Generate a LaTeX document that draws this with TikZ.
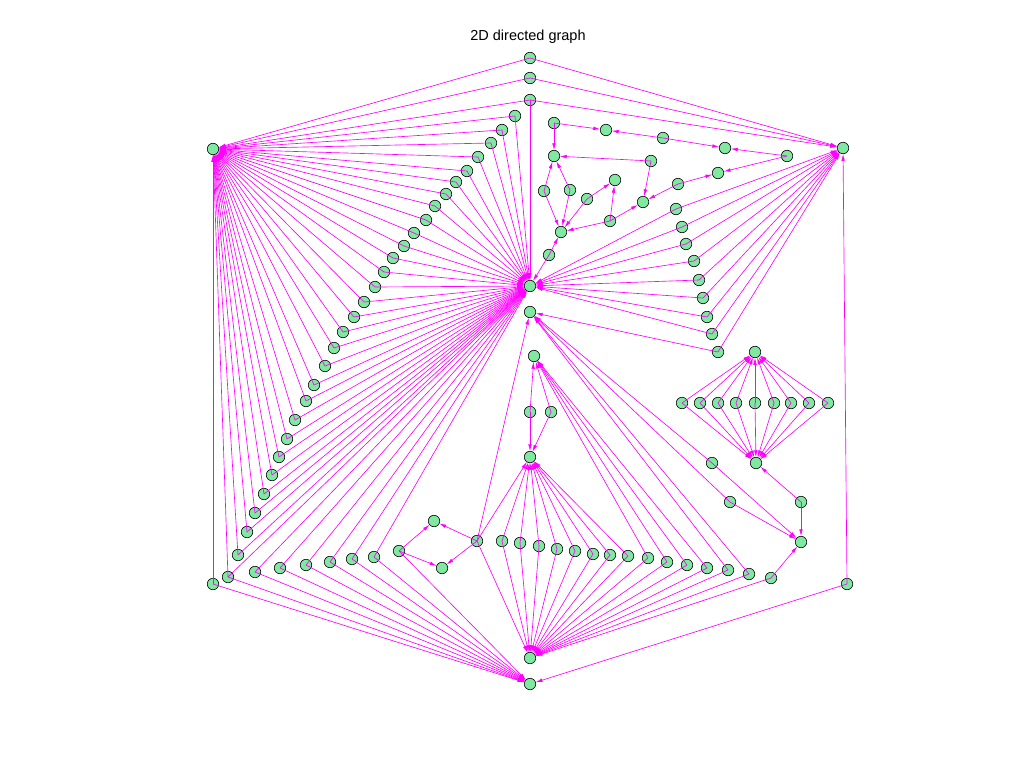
\documentclass[tikz,border=0pt]{standalone}
\usepackage{fontspec}
\setmainfont{Liberation Sans}
\usetikzlibrary{arrows.meta}
\definecolor{vfill}{RGB}{128,232,160}
\definecolor{emag}{RGB}{255,0,255}
\begin{document}
\begin{tikzpicture}[x=1pt,y=-1pt,
  vx/.style={circle,draw=black,fill=vfill,line width=0.6pt,minimum size=11.5pt,inner sep=0pt,outer sep=0pt},
  edge/.style={draw=emag,line width=0.65pt,-{Latex[length=7pt,width=3.6pt]}}]
\useasboundingbox (0,0) rectangle (1024,768);
\node (title) at (528,37) {\fontsize{14.5}{16}\selectfont 2D directed graph};
% named vertices
\foreach \n/\x/\y in {L/213/149, R/843/148, C/530/286, C2/530/312, D1/534/356, D2/530/457,
  B1/530/658, B2/530/684, RT/755/352, RB/756/463, X/801/542, t1/530/58, t2/530/78, t3/530/100,
  cl/213/584, cr/847/584, s0/399/551, s1/434/521, s2/442/568, s3/477/541, u1/530/412, u2/551/412,
  e1/712/463, e2/730/502, e3/801/502, ca/554/123, cb/606/130, cc/663/138, cd/725/148, cf/787/156,
  ce/554/156, cg/651/161, ch/544/191, ci/570/190, cj/615/180, ck/587/199, ckk/643/202, cm/678/184,
  cn/718/173, co/561/232, cp/610/221, cq/549/255}
  \node[vx] (\n) at (\x,\y) {};
\foreach \n/\x/\y in {1/515/116, 2/502/130, 3/491/143, 4/478/157, 5/467/171, 6/456/182, 7/446/194,
  8/435/206, 9/426/220, 10/414/233, 11/404/246, 12/393/258, 13/384/272, 14/375/287, 15/364/302,
  16/354/317, 17/343/332, 18/334/348, 19/325/366, 20/314/385, 21/306/401, 22/295/420, 23/287/439,
  24/279/457, 25/272/475, 26/264/494, 27/255/513, 28/247/532, 29/238/555, 30/228/577}
  \node[vx] (ld\n) at (\x,\y) {};
\foreach \n/\x/\y in {1/255/572, 2/280/568, 3/306/565, 4/330/562, 5/352/559, 6/374/557}
  \node[vx] (bl\n) at (\x,\y) {};
\foreach \n/\x/\y in {1/502/541, 2/520/543, 3/539/546, 4/557/549, 5/575/551, 6/593/554, 7/610/555,
  8/628/556, 9/648/558, 10/667/562, 11/687/565, 12/707/568, 13/728/570, 14/749/574, 15/771/578}
  \node[vx] (m\n) at (\x,\y) {};
\foreach \n/\x in {1/682, 2/700, 3/718, 4/736, 5/755, 6/774, 7/791, 8/809, 9/828}
  \node[vx] (rd\n) at (\x,403) {};
\foreach \n/\x/\y in {1/676/209, 2/682/227, 3/686/244, 4/694/261, 5/699/280, 6/703/298, 7/707/317,
  8/712/334, 9/718/352}
  \node[vx] (rr\n) at (\x,\y) {};
% connectors
\foreach \s/\t in {t1/L, t1/R, t2/L, t2/R, t3/L, t3/R, t3/C, cl/L, cl/B2, cr/R, cr/B2, ld30/B2,
  s0/s1, s0/s2, s0/B2, s3/s1, s3/s2, s3/B1, s3/C2, s3/D2,
  m13/C2, m14/C2, m15/X, u1/D1, u1/D2, u2/D1, u2/D2,
  e1/C2, e1/X, e2/C2, e2/X, e3/RB, e3/X, rr9/R, rr9/C2,
  ca/ce, ca/cb, cc/cb, cc/cd, cf/cd, cf/cn, cg/ce, cg/ckk, ch/ce, ch/co, ci/ce, ci/co,
  ck/co, ck/cj, cp/co, cp/cj, cp/ckk, cm/ckk, cm/cn, cq/co, cq/C}
  \draw[edge] (\s.center) -- (\t);
\foreach \n in {1,...,30} {\draw[edge] (ld\n.center) -- (L); \draw[edge] (ld\n.center) -- (C);}
\foreach \n in {1,...,6} {\draw[edge] (bl\n.center) -- (C); \draw[edge] (bl\n.center) -- (B2);}
\foreach \n in {1,...,15} {\draw[edge] (m\n.center) -- (B1);}
\foreach \n in {1,...,8} {\draw[edge] (m\n.center) -- (D2);}
\foreach \n in {9,...,12} {\draw[edge] (m\n.center) -- (D1);}
\foreach \n in {1,...,9} {\draw[edge] (rd\n.center) -- (RT); \draw[edge] (rd\n.center) -- (RB);}
\foreach \n in {1,...,8} {\draw[edge] (rr\n.center) -- (R); \draw[edge] (rr\n.center) -- (C);}
\end{tikzpicture}
\end{document}
